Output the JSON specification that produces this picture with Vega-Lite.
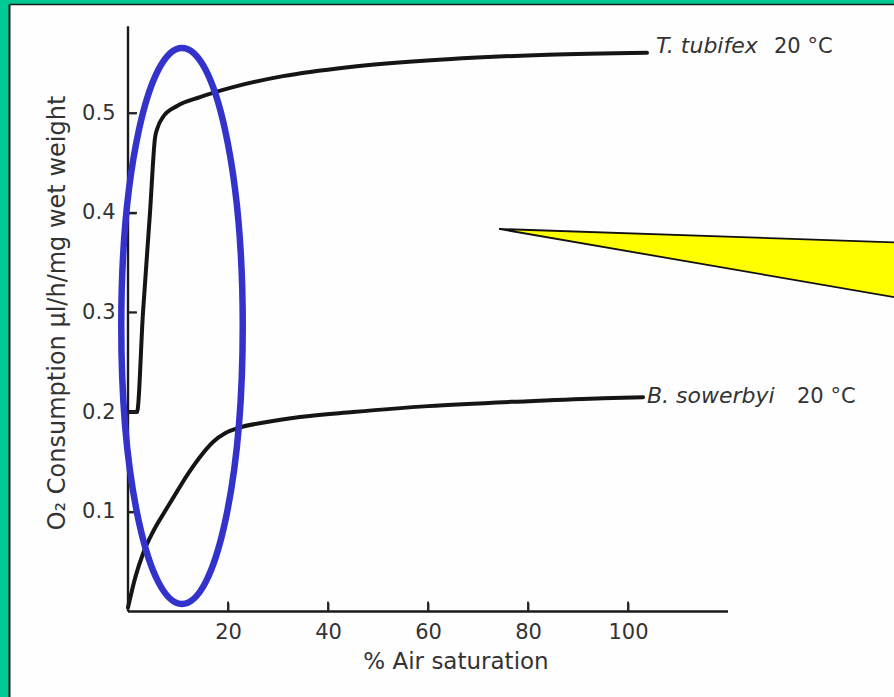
{
  "$schema": "https://vega.github.io/schema/vega-lite/v6.json",
  "width": 885,
  "height": 693,
  "autosize": {"type": "none"},
  "padding": {"left": 9, "top": 4, "right": 0, "bottom": 0},
  "background": "#00C994",
  "config": {"view": {"fill": "#fefefe", "stroke": null}, "axis": {"grid": false}},
  "datasets": {
    "curves": [
      {"series": "T. tubifex", "x": 0.2, "y": 0.2},
      {"series": "T. tubifex", "x": 1.8, "y": 0.2},
      {"series": "T. tubifex", "x": 3.0, "y": 0.3},
      {"series": "T. tubifex", "x": 4.4, "y": 0.4},
      {"series": "T. tubifex", "x": 5.4, "y": 0.475},
      {"series": "T. tubifex", "x": 5.9, "y": 0.485},
      {"series": "T. tubifex", "x": 7.0, "y": 0.496},
      {"series": "T. tubifex", "x": 9.8, "y": 0.507},
      {"series": "T. tubifex", "x": 14.4, "y": 0.516},
      {"series": "T. tubifex", "x": 21, "y": 0.526},
      {"series": "T. tubifex", "x": 31, "y": 0.537},
      {"series": "T. tubifex", "x": 44, "y": 0.546},
      {"series": "T. tubifex", "x": 64, "y": 0.554},
      {"series": "T. tubifex", "x": 84, "y": 0.5585},
      {"series": "T. tubifex", "x": 103.8, "y": 0.5605},
      {"series": "B. sowerbyi", "x": 0, "y": 0.004},
      {"series": "B. sowerbyi", "x": 1.5, "y": 0.035},
      {"series": "B. sowerbyi", "x": 3, "y": 0.058},
      {"series": "B. sowerbyi", "x": 5, "y": 0.08},
      {"series": "B. sowerbyi", "x": 7.7, "y": 0.103},
      {"series": "B. sowerbyi", "x": 10, "y": 0.122},
      {"series": "B. sowerbyi", "x": 12, "y": 0.138},
      {"series": "B. sowerbyi", "x": 14.4, "y": 0.155},
      {"series": "B. sowerbyi", "x": 17, "y": 0.17},
      {"series": "B. sowerbyi", "x": 19.5, "y": 0.179},
      {"series": "B. sowerbyi", "x": 22, "y": 0.184},
      {"series": "B. sowerbyi", "x": 27.8, "y": 0.19},
      {"series": "B. sowerbyi", "x": 34.4, "y": 0.195},
      {"series": "B. sowerbyi", "x": 45, "y": 0.2},
      {"series": "B. sowerbyi", "x": 60, "y": 0.206},
      {"series": "B. sowerbyi", "x": 80, "y": 0.211},
      {"series": "B. sowerbyi", "x": 95, "y": 0.214},
      {"series": "B. sowerbyi", "x": 103, "y": 0.215}
    ],
    "axislines": [
      {"x": 0, "y": 0, "x2": 120, "y2": 0},
      {"x": 0, "y": 0, "x2": 0, "y2": 0.587}
    ],
    "xticks": [
      {"x": 20, "y": 0}, {"x": 40, "y": 0}, {"x": 60, "y": 0}, {"x": 80, "y": 0}, {"x": 100, "y": 0}
    ],
    "yticks": [
      {"x": 0, "y": 0.1}, {"x": 0, "y": 0.2}, {"x": 0, "y": 0.3}, {"x": 0, "y": 0.4}, {"x": 0, "y": 0.5}
    ],
    "labels": [
      {"x": 105.6, "y": 0.5602, "text": "T. tubifex", "part": "species"},
      {"x": 129.2, "y": 0.5602, "text": "20 °C", "part": "temp"},
      {"x": 103.8, "y": 0.2091, "text": "B. sowerbyi", "part": "species"},
      {"x": 133.8, "y": 0.2091, "text": "20 °C", "part": "temp"}
    ],
    "ellipse": [{"x": 10.8, "y": 0.2864}],
    "callout": [{"x": 74.2, "y": 0.3837}]
  },
  "resolve": {"axis": {"x": "independent", "y": "independent"}},
  "layer": [
    {
      "data": {"name": "callout"},
      "mark": {
        "type": "point",
        "shape": "M0,0L4,0.136L4,0.69Z",
        "size": 156025,
        "filled": true,
        "fill": "#FFFF00",
        "stroke": "#111111",
        "strokeWidth": 1.8,
        "opacity": 1,
        "fillOpacity": 1,
        "strokeOpacity": 1
      },
      "encoding": {
        "x": {"field": "x", "type": "quantitative",
          "scale": {"domain": [-23.8, 153.2], "nice": false, "zero": false},
          "axis": {"orient": "top", "offset": 0, "domain": true, "domainColor": "#1a1a1a", "domainWidth": 1.5, "ticks": false, "labels": false, "title": null, "grid": false}},
        "y": {"field": "y", "type": "quantitative",
          "scale": {"domain": [-0.08575, 0.60933], "nice": false, "zero": false},
          "axis": {"orient": "left", "offset": 0, "domain": true, "domainColor": "#1a1a1a", "domainWidth": 2, "ticks": false, "labels": false, "title": null, "grid": false}}
      }
    },
    {
      "data": {"name": "curves"},
      "mark": {"type": "line", "interpolate": "monotone", "stroke": "#151515", "strokeWidth": 4, "strokeCap": "round", "strokeJoin": "round"},
      "encoding": {
        "x": {"field": "x", "type": "quantitative",
          "scale": {"domain": [-23.8, 153.2], "nice": false, "zero": false},
          "axis": {
            "orient": "top", "offset": -607.5, "domain": false,
            "values": [20, 40, 60, 80, 100], "format": "d",
            "ticks": true, "tickSize": 9, "tickWidth": 1.8, "tickColor": "#222222",
            "labelPadding": -19.2, "labelBaseline": "top", "labelFont": "DejaVu Sans", "labelFontSize": 21, "labelColor": "#333333",
            "labelFlush": false, "labelOverlap": false,
            "title": "% Air saturation", "titleFont": "DejaVu Sans", "titleFontSize": 23, "titleFontWeight": "normal", "titleColor": "#333333",
            "titleX": 446.5, "titleY": 56.5, "titleBaseline": "alphabetic", "titleAlign": "center"
          }},
        "y": {"field": "y", "type": "quantitative",
          "scale": {"domain": [-0.08575, 0.60933], "nice": false, "zero": false},
          "axis": {
            "orient": "right", "offset": -766, "domain": false,
            "values": [0.1, 0.2, 0.3, 0.4, 0.5], "format": ".1f",
            "ticks": true, "tickSize": 8, "tickWidth": 1.8, "tickColor": "#222222",
            "labelPadding": -21, "labelAlign": "right", "labelFont": "DejaVu Sans", "labelFontSize": 21, "labelColor": "#333333",
            "labelFlush": false, "labelOverlap": false,
            "title": "O₂ Consumption µl/h/mg wet weight", "titleFont": "DejaVu Sans", "titleFontSize": 24, "titleFontWeight": "normal", "titleColor": "#333333",
            "titleX": -64, "titleY": 308.5, "titleAngle": -90, "titleBaseline": "alphabetic", "titleAlign": "center"
          }},
        "detail": {"field": "series", "type": "nominal"}
      }
    },
    {
      "data": {"name": "axislines"},
      "mark": {"type": "rule", "stroke": "#1a1a1a", "strokeWidth": 2.4},
      "encoding": {
        "x": {"field": "x", "type": "quantitative", "scale": {"domain": [-23.8, 153.2], "nice": false, "zero": false}, "axis": null},
        "x2": {"field": "x2"},
        "y": {"field": "y", "type": "quantitative", "scale": {"domain": [-0.08575, 0.60933], "nice": false, "zero": false}, "axis": null},
        "y2": {"field": "y2"}
      }
    },
    {
      "data": {"name": "xticks"},
      "mark": {"type": "tick", "orient": "vertical", "size": 10, "thickness": 1.8, "yOffset": -5, "color": "#222222", "opacity": 1},
      "encoding": {
        "x": {"field": "x", "type": "quantitative", "scale": {"domain": [-23.8, 153.2], "nice": false, "zero": false}, "axis": null},
        "y": {"field": "y", "type": "quantitative", "scale": {"domain": [-0.08575, 0.60933], "nice": false, "zero": false}, "axis": null}
      }
    },
    {
      "data": {"name": "yticks"},
      "mark": {"type": "tick", "orient": "horizontal", "size": 9, "thickness": 1.8, "xOffset": 4.5, "color": "#222222", "opacity": 1},
      "encoding": {
        "x": {"field": "x", "type": "quantitative", "scale": {"domain": [-23.8, 153.2], "nice": false, "zero": false}, "axis": null},
        "y": {"field": "y", "type": "quantitative", "scale": {"domain": [-0.08575, 0.60933], "nice": false, "zero": false}, "axis": null}
      }
    },
    {
      "data": {"name": "labels"},
      "transform": [{"filter": "datum.part === 'species'"}],
      "mark": {"type": "text", "align": "left", "baseline": "alphabetic", "font": "DejaVu Sans", "fontSize": 22, "fontStyle": "italic", "color": "#333333"},
      "encoding": {
        "x": {"field": "x", "type": "quantitative", "scale": {"domain": [-23.8, 153.2], "nice": false, "zero": false}, "axis": null},
        "y": {"field": "y", "type": "quantitative", "scale": {"domain": [-0.08575, 0.60933], "nice": false, "zero": false}, "axis": null},
        "text": {"field": "text"}
      }
    },
    {
      "data": {"name": "labels"},
      "transform": [{"filter": "datum.part === 'temp'"}],
      "mark": {"type": "text", "align": "left", "baseline": "alphabetic", "font": "DejaVu Sans", "fontSize": 21, "color": "#333333"},
      "encoding": {
        "x": {"field": "x", "type": "quantitative", "scale": {"domain": [-23.8, 153.2], "nice": false, "zero": false}, "axis": null},
        "y": {"field": "y", "type": "quantitative", "scale": {"domain": [-0.08575, 0.60933], "nice": false, "zero": false}, "axis": null},
        "text": {"field": "text"}
      }
    },
    {
      "data": {"name": "ellipse"},
      "mark": {
        "type": "point",
        "shape": "M0,-1C0.1207,-1,0.2185,-0.5523,0.2185,0C0.2185,0.5523,0.1207,1,0,1C-0.1207,1,-0.2185,0.5523,-0.2185,0C-0.2185,-0.5523,-0.1207,-1,0,-1Z",
        "size": 309136,
        "filled": false,
        "stroke": "#3333CC",
        "strokeWidth": 6.5,
        "opacity": 1,
        "strokeOpacity": 1
      },
      "encoding": {
        "x": {"field": "x", "type": "quantitative", "scale": {"domain": [-23.8, 153.2], "nice": false, "zero": false}, "axis": null},
        "y": {"field": "y", "type": "quantitative", "scale": {"domain": [-0.08575, 0.60933], "nice": false, "zero": false}, "axis": null}
      }
    }
  ]
}
